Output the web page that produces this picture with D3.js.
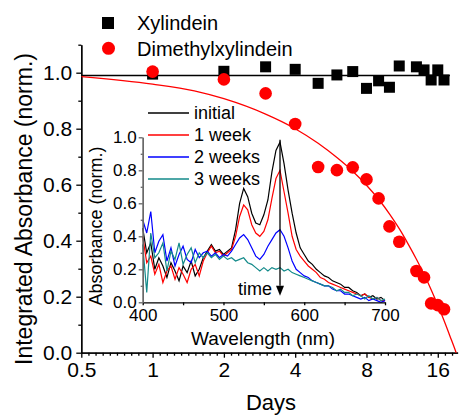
<!DOCTYPE html>
<html>
<head>
<meta charset="utf-8">
<script src="https://cdn.jsdelivr.net/npm/d3@7"></script>
<style>
  body { margin: 0; background: #fff; }
  svg { font-family: "Liberation Sans", Arial, sans-serif; }
  .axis path, .axis line { stroke: #000; stroke-width: 1.3; }
  .inset-y path, .inset-y line { stroke: #666; }
</style>
</head>
<body>
<script>
// main plot data: integrated absorbance vs days
const xylDays = [1, 2, 3, 4, 5, 6, 7, 8, 9, 10, 11, 13, 14, 15, 16, 17];
const xylVals = [0.995, 1.005, 1.021, 1.012, 0.962, 0.992, 1.004, 0.944, 0.971, 0.948, 1.024, 1.021, 1.01, 0.974, 1.01, 0.974];
const xylFitDays = [0.5, 18];
const xylFitVals = [0.99, 0.99];

const dmxDays = [1, 2, 3, 4, 5, 6, 7, 8, 9, 10, 11, 13, 14, 15, 16, 17];
const dmxVals = [1.004, 0.976, 0.926, 0.817, 0.663, 0.652, 0.662, 0.619, 0.551, 0.451, 0.396, 0.292, 0.269, 0.176, 0.170, 0.155];
const dmxFitDays = [0.5, 1, 1.5, 2, 3, 4, 5, 6, 7, 8, 9, 10, 11, 12, 13, 14, 15, 16, 17, 18, 19, 20];
const dmxFitVals = [0.986, 0.959, 0.935, 0.907, 0.852, 0.800, 0.748, 0.697, 0.648, 0.598, 0.548, 0.496, 0.443, 0.388, 0.334, 0.280, 0.225, 0.170, 0.115, 0.060, 0.007, -0.05];

const dayTicks = [0.5, 1, 2, 4, 8, 16];
const absTicks = [0, 0.2, 0.4, 0.6, 0.8, 1.0];

// inset data: absorbance spectra
const wavelengths = [400, 405, 410, 415, 420, 425, 430, 435, 440, 445,
  450, 455, 460, 465, 470, 475, 480, 485, 490, 495,
  500, 505, 510, 515, 520, 525, 530, 535, 540, 545,
  550, 555, 560, 565, 570, 575, 580, 585, 590, 595,
  600, 605, 610, 615, 620, 625, 630, 635, 640, 645,
  650, 655, 660, 665, 670, 675, 680, 685, 690, 695, 700];
const specInitial = [0.45, 0.30, 0.36, 0.20, 0.27, 0.22, 0.15, 0.24, 0.19, 0.13,
  0.22, 0.18, 0.25, 0.16, 0.20, 0.27, 0.31, 0.35, 0.31, 0.32,
  0.29, 0.31, 0.33, 0.44, 0.60, 0.69, 0.64, 0.54, 0.48, 0.47,
  0.53, 0.62, 0.79, 0.92, 0.97, 0.84, 0.68, 0.54, 0.42, 0.33,
  0.29, 0.25, 0.23, 0.20, 0.18, 0.16, 0.15, 0.13, 0.12, 0.11,
  0.09, 0.09, 0.07, 0.06, 0.04, 0.05, 0.03, 0.04, 0.02, 0.03, 0.01];
const spec1Week = [0.40, 0.24, 0.28, 0.17, 0.23, 0.12, 0.19, 0.22, 0.14, 0.21,
  0.17, 0.12, 0.20, 0.23, 0.16, 0.25, 0.30, 0.34, 0.30, 0.31,
  0.28, 0.30, 0.32, 0.40, 0.52, 0.59, 0.56, 0.47, 0.42, 0.40,
  0.43, 0.50, 0.63, 0.75, 0.80, 0.67, 0.54, 0.40, 0.32, 0.28,
  0.25, 0.22, 0.20, 0.18, 0.15, 0.14, 0.12, 0.11, 0.10, 0.09,
  0.08, 0.07, 0.06, 0.05, 0.04, 0.05, 0.03, 0.02, 0.03, 0.01, 0.01];
const spec2Weeks = [0.50, 0.42, 0.55, 0.30, 0.37, 0.41, 0.25, 0.33, 0.22, 0.29,
  0.34, 0.26, 0.24, 0.32, 0.27, 0.30, 0.31, 0.28, 0.30, 0.27,
  0.29, 0.28, 0.31, 0.35, 0.39, 0.41, 0.38, 0.33, 0.28, 0.26,
  0.29, 0.34, 0.38, 0.42, 0.44, 0.40, 0.33, 0.25, 0.20, 0.18,
  0.16, 0.15, 0.13, 0.12, 0.11, 0.10, 0.10, 0.08, 0.07, 0.07,
  0.05, 0.05, 0.04, 0.03, 0.02, 0.03, 0.01, 0.02, 0.01, 0.00, 0.01];
const spec3Weeks = [0.35, 0.06, 0.42, 0.27, 0.30, 0.36, 0.19, 0.31, 0.26, 0.36,
  0.23, 0.29, 0.33, 0.24, 0.30, 0.27, 0.30, 0.27, 0.29, 0.26,
  0.28, 0.26, 0.27, 0.25, 0.26, 0.27, 0.24, 0.23, 0.21, 0.19,
  0.21, 0.19, 0.21, 0.20, 0.21, 0.19, 0.20, 0.18, 0.17, 0.16,
  0.15, 0.14, 0.13, 0.12, 0.11, 0.10, 0.10, 0.09, 0.07, 0.08,
  0.06, 0.06, 0.04, 0.05, 0.04, 0.02, 0.04, 0.02, 0.03, 0.01, 0.02];
const specNames = ["initial", "1 week", "2 weeks", "3 weeks"];
const specColors = ["#000000", "#ff0000", "#0000ff", "#138a8a"];
const wlTicks = [400, 500, 600, 700];
const insetAbsTicks = [0, 0.2, 0.4, 0.6, 0.8, 1.0];

// layout
const margin = { top: 44.7, right: 1.4, bottom: 63.3, left: 81.3 };
const width = 459 - margin.left - margin.right;
const height = 416 - margin.top - margin.bottom;

const svg = d3.select("body").append("svg")
  .attr("width", 459)
  .attr("height", 416);

const g = svg.append("g")
  .attr("transform", `translate(${margin.left},${margin.top})`);

const x = d3.scaleLog().base(2).domain([0.5, 19.4]).range([0, width]);
const y = d3.scaleLinear().domain([0, 1.1]).range([height, 0]);

g.append("clipPath").attr("id", "plotclip")
  .append("rect").attr("width", width).attr("height", height);

// minor ticks: 9 per doubling on x, every 0.1 on y
const xMinor = [];
for (let k = 0; k <= 53; k++) {
  if (k % 10 !== 0) xMinor.push(0.5 * Math.pow(2, k / 10));
}
const yMinor = [0.1, 0.3, 0.5, 0.7, 0.9, 1.1];

g.append("g").attr("class", "axis")
  .attr("transform", `translate(0,${height})`)
  .call(d3.axisBottom(x).tickValues(xMinor).tickFormat("").tickSize(3).tickSizeOuter(0));
const xAxis = g.append("g").attr("class", "axis")
  .attr("transform", `translate(0,${height})`)
  .call(d3.axisBottom(x).tickValues(dayTicks).tickFormat(d3.format("")).tickSize(5).tickSizeOuter(0).tickPadding(4));
xAxis.selectAll("text").attr("font-size", 21).attr("fill", "#000");

g.append("g").attr("class", "axis")
  .call(d3.axisLeft(y).tickValues(yMinor).tickFormat("").tickSize(3).tickSizeOuter(0));
const yAxis = g.append("g").attr("class", "axis")
  .call(d3.axisLeft(y).tickValues(absTicks).tickFormat(d3.format(".1f")).tickSize(5).tickSizeOuter(0).tickPadding(4));
yAxis.selectAll("text").attr("font-size", 21).attr("fill", "#000");

// axis titles
svg.append("text")
  .attr("x", 271).attr("y", 410)
  .attr("text-anchor", "middle")
  .attr("font-size", 22)
  .text("Days");

svg.append("text")
  .attr("transform", "translate(32,209) rotate(-90)")
  .attr("text-anchor", "middle")
  .attr("font-size", 23)
  .text("Integrated Absorbance (norm.)");

// fit lines
const line = d3.line()
  .x((d) => x(d[0]))
  .y((d) => y(d[1]));

g.append("path")
  .datum(d3.zip(xylFitDays, xylFitVals))
  .attr("fill", "none").attr("stroke", "#000").attr("stroke-width", 1.3)
  .attr("d", line);

g.append("path")
  .datum(d3.zip(dmxFitDays, dmxFitVals))
  .attr("clip-path", "url(#plotclip)")
  .attr("fill", "none").attr("stroke", "#ff0000").attr("stroke-width", 1.3)
  .attr("d", line.curve(d3.curveMonotoneX));

// markers
const sq = 11;
g.selectAll(".xyl")
  .data(d3.zip(xylDays, xylVals))
  .enter().append("rect")
  .attr("x", (d) => x(d[0]) - sq / 2)
  .attr("y", (d) => y(d[1]) - sq / 2)
  .attr("width", sq).attr("height", sq)
  .attr("fill", "#000");

g.selectAll(".dmx")
  .data(d3.zip(dmxDays, dmxVals))
  .enter().append("circle")
  .attr("cx", (d) => x(d[0]))
  .attr("cy", (d) => y(d[1]))
  .attr("r", 6.3)
  .attr("fill", "#ff0000");

// main legend
svg.append("rect").attr("x", 102).attr("y", 17).attr("width", 12).attr("height", 12).attr("fill", "#000");
svg.append("text").attr("x", 137).attr("y", 29.5).attr("font-size", 20).text("Xylindein");
svg.append("circle").attr("cx", 108.5).attr("cy", 48.3).attr("r", 6.5).attr("fill", "#ff0000");
svg.append("text").attr("x", 137).attr("y", 56).attr("font-size", 20).text("Dimethylxylindein");

// ---------- inset ----------
const xi = d3.scaleLinear().domain([400, 700]).range([142.7, 385]);
const yi = d3.scaleLinear().domain([0, 1.0]).range([302.3, 137.3]);

const inset = svg.append("g");

const series = [specInitial, spec1Week, spec2Weeks, spec3Weeks];
const specLine = d3.line()
  .x((d) => xi(d[0]))
  .y((d) => yi(d[1]));

series.forEach((s, i) => {
  inset.append("path")
    .datum(d3.zip(wavelengths, s))
    .attr("fill", "none")
    .attr("stroke", specColors[i])
    .attr("stroke-width", 1.2)
    .attr("d", specLine);
});

const ixAxis = inset.append("g").attr("class", "axis")
  .attr("transform", `translate(0,${yi(0)})`)
  .call(d3.axisBottom(xi).tickValues([400, 450, 500, 550, 600, 650, 700]).tickFormat((d) => wlTicks.includes(d) ? d : "").tickSize(3).tickSizeOuter(0).tickPadding(4));
ixAxis.selectAll("text").attr("font-size", 17).attr("fill", "#000");
ixAxis.select(".domain").attr("stroke-width", 1.2);

const iyAxis = inset.append("g").attr("class", "axis inset-y")
  .attr("transform", `translate(${xi(400)},0)`)
  .call(d3.axisLeft(yi).tickValues(insetAbsTicks).tickFormat(d3.format(".1f")).tickSize(4).tickSizeOuter(0).tickPadding(2));
iyAxis.selectAll("text").attr("font-size", 17).attr("fill", "#000");
inset.append("g").attr("class", "axis inset-y")
  .attr("transform", `translate(${xi(400)},0)`)
  .call(d3.axisLeft(yi).tickValues([0.1, 0.3, 0.5, 0.7, 0.9]).tickFormat("").tickSize(2).tickSizeOuter(0));

inset.append("text")
  .attr("x", 263).attr("y", 345)
  .attr("text-anchor", "middle")
  .attr("font-size", 19)
  .text("Wavelength (nm)");

inset.append("text")
  .attr("transform", "translate(102,226) rotate(-90)")
  .attr("text-anchor", "middle")
  .attr("font-size", 18)
  .text("Absorbance (norm.)");

// inset legend
specNames.forEach((name, i) => {
  const ly = 113 + i * 22;
  inset.append("line")
    .attr("x1", 148).attr("x2", 189)
    .attr("y1", ly).attr("y2", ly)
    .attr("stroke", specColors[i]).attr("stroke-width", 1.6);
  inset.append("text")
    .attr("x", 194).attr("y", ly + 6)
    .attr("font-size", 18)
    .text(name);
});

// time arrow
inset.append("line")
  .attr("x1", xi(570)).attr("x2", xi(570))
  .attr("y1", yi(0.985)).attr("y2", yi(0.1))
  .attr("stroke", "#000").attr("stroke-width", 1.3);
inset.append("path")
  .attr("d", d3.line()([[xi(570) - 4, yi(0.1)], [xi(570) + 4, yi(0.1)], [xi(570), yi(0.04)]]) + "Z")
  .attr("fill", "#000");
inset.append("text")
  .attr("x", 238).attr("y", 295)
  .attr("font-size", 18)
  .text("time");
</script>
</body>
</html>
